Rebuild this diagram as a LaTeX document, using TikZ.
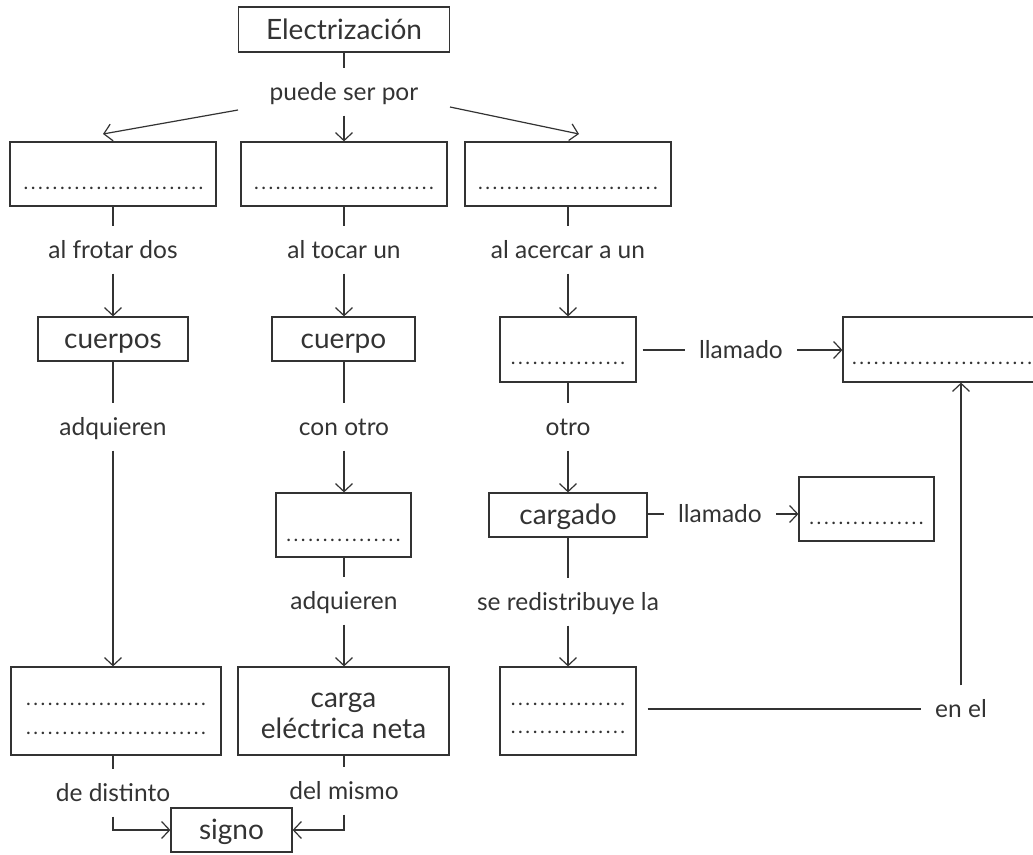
\documentclass[tikz,border=0pt]{standalone}
\usepackage{fontspec}
\setmainfont{Lato}
\usetikzlibrary{arrows.meta}
\definecolor{ink}{HTML}{333333}
\newcommand\dotrow[2][7.3pt]{\foreach \k in {1,...,#2}{\makebox[#1]{.}}}
\begin{document}
\begin{tikzpicture}[x=1pt,y=-1pt,line width=1.2pt,draw=ink,text=ink,
  box/.style={draw=ink,rectangle,inner sep=0pt,text height=20pt,text depth=1pt,font=\fontsize{28}{31}\selectfont},
  lab/.style={inner xsep=14pt,inner ysep=8pt,text height=23pt,text depth=7pt,anchor=base,font=\fontsize{24.5}{28}\selectfont},
  dotz/.style={inner sep=0pt,anchor=base,font=\fontsize{20}{20}\selectfont},
  arr/.style={-{Straight Barb[length=8pt,width=17pt]}}]
\useasboundingbox (0,0) rectangle (1033,854);
% top
\node[box,minimum width=211,minimum height=45] (E) at (344,29.5) {Electrización};
\node[lab] (L0) at (344,100) {puede ser por};
\coordinate (L0l) at (238,110);
\coordinate (L0r) at (450,107);
\coordinate (TA) at (103,134);
\coordinate (TC) at (579,134);
% row 1
\node[box,minimum width=206,minimum height=64] (A1) at (113,174) {};
\node[box,minimum width=206,minimum height=64] (B1) at (344,174) {};
\node[box,minimum width=206,minimum height=64] (C1) at (568,174) {};
\node[dotz] (A1d) at (113.5,189) {\dotrow{25}};
\node[dotz] (B1d) at (344,189) {\dotrow{25}};
\node[dotz] (C1d) at (568,189) {\dotrow{25}};
\node[lab] (la1) at (113,258) {al frotar dos};
\node[lab] (lb1) at (344,258) {al tocar un};
\node[lab] (lc1) at (568,258) {al acercar a un};
% row 2
\node[box,minimum width=150,minimum height=44] (A2) at (113,339) {cuerpos};
\node[box,minimum width=143,minimum height=44] (B2) at (343.5,339) {cuerpo};
\node[box,minimum width=136,minimum height=65] (C2) at (568,349.5) {};
\node[dotz] (C2d) at (568,364) {\dotrow{16}};
\node[lab] (ll1) at (741,358) {llamado};
\node[box,minimum width=200,minimum height=65] (D) at (943,349.5) {};
\node[dotz] (Dd) at (942,364) {\dotrow{25}};
\node[lab] (la2) at (113,435) {adquieren};
\node[lab] (lb2) at (344,435) {con otro};
\node[lab] (lc2) at (568,435) {otro};
% row 3
\node[box,minimum width=135,minimum height=64] (B3) at (343.5,525) {};
\node[dotz] (B3d) at (343.5,541) {\dotrow{16}};
\node[box,minimum width=158,minimum height=44] (Cg) at (568,515) {cargado};
\node[lab] (ll2) at (720,522) {llamado};
\node[box,minimum width=135,minimum height=64] (S) at (866.5,509) {};
\node[dotz] (Sd) at (866.5,524) {\dotrow{16}};
\node[lab] (lb3) at (344,609) {adquieren};
\node[lab] (lc3) at (568,610) {se redistribuye la};
% row 4
\node[box,minimum width=210,minimum height=88] (A4) at (116,711) {};
\node[dotz] (A4d1) at (116,705) {\dotrow{25}};
\node[dotz] (A4d2) at (116,734) {\dotrow{25}};
\node[box,minimum width=211,minimum height=88] (B4) at (343.5,711) {};
\node[align=center,inner sep=0pt,font=\fontsize{28}{31}\selectfont] (B4t) at (343.5,716) {carga\\eléctrica neta};
\node[box,minimum width=136,minimum height=88] (C4) at (568,711) {};
\node[dotz] (C4d1) at (568,705) {\dotrow{16}};
\node[dotz] (C4d2) at (568,733) {\dotrow{16}};
\node[lab] (enel) at (961,717) {en el};
\node[lab] (la4) at (113,801) {de distinto};
\node[lab] (lb4) at (344,799) {del mismo};
\node[box,minimum width=121,minimum height=44] (sg) at (231.5,830) {signo};
% connectors
\draw (E.south) -- (E.south |- L0.north);
\draw[arr] (L0l) -- (TA);
\draw[arr] (L0.south) -- (B1.north);
\draw[arr] (L0r) -- (TC);
\draw (A1.south) -- (la1.north);
\draw (B1.south) -- (lb1.north);
\draw (C1.south) -- (lc1.north);
\draw[arr] (la1.south) -- (A2.north);
\draw[arr] (lb1.south) -- (B2.north -| lb1.south);
\draw[arr] (lc1.south) -- (C2.north);
\draw (A2.south) -- (la2.north);
\draw (B2.south -| lb2.north) -- (lb2.north);
\draw (C2.south) -- (lc2.north);
\draw[shorten <=6pt] (C2.east |- ll1.west) -- (ll1.west);
\draw[arr] (ll1.east) -- (ll1.east -| D.west);
\draw[arr] (la2.south) -- (A4.north -| la2.south);
\draw[arr] (lb2.south) -- (B3.north -| lb2.south);
\draw[arr] (lc2.south) -- (Cg.north);
\draw (Cg.east |- ll2.west) -- (ll2.west);
\draw[arr] (ll2.east) -- (ll2.east -| S.west);
\draw (B3.south -| lb3.north) -- (lb3.north);
\draw (Cg.south) -- (lc3.north);
\draw[arr] (lb3.south) -- (B4.north -| lb3.south);
\draw[arr] (lc3.south) -- (C4.north);
\draw[shorten <=11pt] (C4.east |- enel.west) -- (enel.west);
\draw[arr] (enel.north) -- (enel.north |- D.south);
\draw (A4.south -| la4.north) -- (la4.north);
\draw (B4.south -| lb4.north) -- (lb4.north);
\draw[arr] (la4.south) |- (sg.west);
\draw[arr] (lb4.south) |- (sg.east);
\end{tikzpicture}
\end{document}
